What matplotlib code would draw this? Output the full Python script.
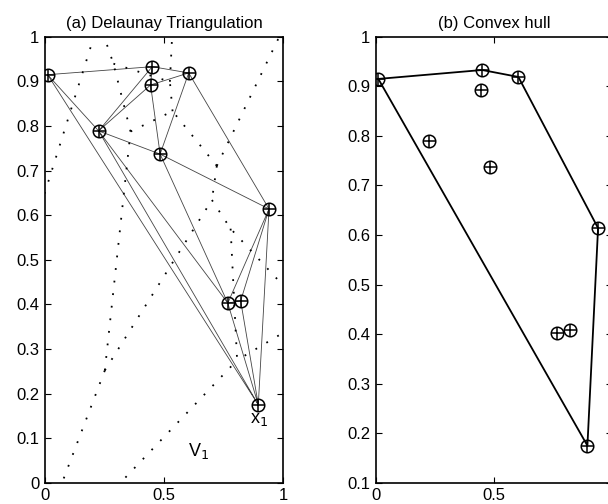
import numpy as np
import matplotlib.pyplot as plt
import matplotlib.tri as mtri
from matplotlib.ticker import FuncFormatter

plt.rcParams['font.family'] = ['Liberation Sans', 'DejaVu Sans']

# point set
px = [0.011, 0.450, 0.603, 0.443, 0.225, 0.483, 0.940, 0.767, 0.821, 0.895]
py = [0.915, 0.933, 0.919, 0.892, 0.789, 0.737, 0.614, 0.403, 0.408, 0.175]

x = np.array(px)
y = np.array(py)


def circumcenter(a, b, c):
    d = 2 * (a[0] * (b[1] - c[1]) + b[0] * (c[1] - a[1]) + c[0] * (a[1] - b[1]))
    ux = ((a @ a) * (b[1] - c[1]) + (b @ b) * (c[1] - a[1]) + (c @ c) * (a[1] - b[1])) / d
    uy = ((a @ a) * (c[0] - b[0]) + (b @ b) * (a[0] - c[0]) + (c @ c) * (b[0] - a[0])) / d
    return np.array([ux, uy])


def voronoi_segments(tri):
    pts = np.column_stack([tri.x, tri.y])
    cc = np.array([circumcenter(*pts[t]) for t in tri.triangles])
    segs = []
    for i, t in enumerate(tri.triangles):
        for j in range(3):
            n = tri.neighbors[i, j]
            if n > i:
                segs.append((cc[i], cc[n]))
            elif n == -1:
                p0, p1 = pts[t[j]], pts[t[(j + 1) % 3]]
                p2 = pts[t[(j + 2) % 3]]
                e = p1 - p0
                nrm = np.array([e[1], -e[0]])
                if nrm @ (p2 - p0) > 0:
                    nrm = -nrm
                nrm = nrm / np.hypot(*nrm)
                segs.append((cc[i], cc[i] + 5 * nrm))
    return segs


def convex_hull(xs, ys):
    P = sorted(zip(xs, ys))
    def cross(o, a, b):
        return (a[0] - o[0]) * (b[1] - o[1]) - (a[1] - o[1]) * (b[0] - o[0])
    lower, upper = [], []
    for p in P:
        while len(lower) >= 2 and cross(lower[-2], lower[-1], p) <= 0:
            lower.pop()
        lower.append(p)
    for p in reversed(P):
        while len(upper) >= 2 and cross(upper[-2], upper[-1], p) <= 0:
            upper.pop()
        upper.append(p)
    h = lower[:-1] + upper[:-1]
    h.append(h[0])
    return np.array(h)


def style(ax):
    ax.tick_params(direction='in', top=True, right=True, length=4,
                   labelsize=12, pad=4)
    for s in ax.spines.values():
        s.set_linewidth(1.2)
    fmt = FuncFormatter(lambda v, p: '%g' % round(v, 2))
    ax.xaxis.set_major_formatter(fmt)
    ax.yaxis.set_major_formatter(fmt)


def draw_points(ax):
    ax.plot(x, y, 'o', ms=9, mfc='none', mec='black', mew=1.1, zorder=3)
    ax.plot(x, y, '+', ms=9, color='black', mew=1.1, zorder=3)


fig = plt.figure(figsize=(6.08, 5.04), dpi=100)
ax1 = fig.add_axes([0.074, 0.042, 0.392, 0.885])
ax2 = fig.add_axes([0.618, 0.042, 0.389, 0.885])

tri = mtri.Triangulation(x, y)
for a, b in voronoi_segments(tri):
    ax1.plot([a[0], b[0]], [a[1], b[1]], linestyle=(0, (1, 6)),
             color='black', lw=1.3)
ax1.triplot(tri, '-', color='#444444', lw=0.6)
draw_points(ax1)
ax1.text(0.60, 0.06, r'V$_1$', fontsize=13)
ax1.text(0.86, 0.135, r'x$_1$', fontsize=13)
ax1.set_xlim(0, 1)
ax1.set_ylim(0, 1)
ax1.set_xticks([0, 0.5, 1])
ax1.set_yticks(np.arange(0, 1.01, 0.1))
ax1.set_title('(a) Delaunay Triangulation', fontsize=12, pad=6)
style(ax1)

hull = convex_hull(px, py)
ax2.plot(hull[:, 0], hull[:, 1], '-', color='black', lw=1.3)
draw_points(ax2)
ax2.set_xlim(0, 1)
ax2.set_ylim(0.1, 1)
ax2.set_xticks([0, 0.5])
ax2.set_yticks(np.arange(0.1, 1.01, 0.1))
ax2.set_title('(b) Convex hull', fontsize=12, pad=6)
style(ax2)

plt.savefig('out.png', dpi=100)
